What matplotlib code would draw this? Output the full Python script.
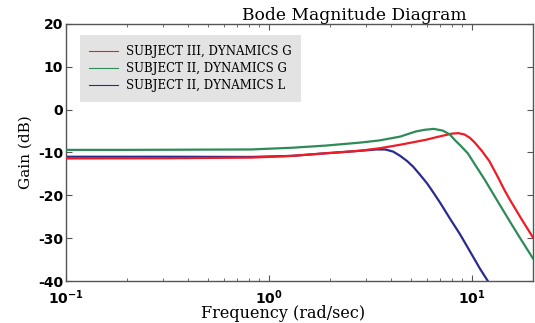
import numpy as np
import matplotlib.pyplot as plt
from matplotlib.ticker import FixedLocator, LogLocator, NullFormatter

# values (frequency in rad/sec, gain in dB)
red_w = [0.1, 0.3, 0.82, 1.3, 1.9, 2.82, 3.54, 4.44, 5.3, 6.0, 6.74, 7.5, 8.0,
         8.6, 9.2, 9.8, 10.3, 11.2, 12.2, 13.4, 14.5, 15.4, 17.5, 20.0]
red_db = [-11.4, -11.35, -11.2, -10.8, -10.2, -9.6, -9.0, -8.2, -7.5, -7.0, -6.4,
          -5.9, -5.6, -5.5, -5.8, -6.6, -7.6, -9.6, -12.0, -15.6, -18.8, -21.0,
          -25.4, -29.8]

green_w = [0.1, 0.2, 0.4, 0.82, 1.3, 1.9, 2.82, 3.5, 4.44, 5.3, 5.88, 6.5, 7.2,
           7.8, 8.25, 8.8, 9.56, 10.3, 11.6, 13.3, 15.0, 17.0, 20.0]
green_db = [-9.4, -9.4, -9.35, -9.3, -8.9, -8.4, -7.7, -7.2, -6.3, -5.1, -4.7,
            -4.5, -4.9, -5.8, -7.1, -8.4, -10.2, -12.6, -16.4, -21.1, -25.2,
            -29.4, -34.7]

blue_w = [0.1, 0.3, 0.82, 1.3, 1.9, 2.5, 3.0, 3.4, 3.75, 4.1, 4.44, 4.8, 5.14,
          5.56, 6.02, 6.5, 7.0, 7.8, 8.73, 10.0, 11.0, 12.0, 12.5]
blue_db = [-11.0, -11.0, -11.05, -10.8, -10.2, -9.8, -9.5, -9.3, -9.3, -9.8,
           -10.8, -12.0, -13.3, -15.2, -17.2, -19.5, -21.8, -25.4, -29.0, -33.8,
           -37.2, -40.0, -41.4]

labels = ['SUBJECT III, DYNAMICS G', 'SUBJECT II, DYNAMICS G', 'SUBJECT II, DYNAMICS L']
yticks = [-40, -30, -20, -10, 0, 10, 20]
xticks = [0.1, 1, 10]
xticklabels = [r'$\mathbf{10^{-1}}$', r'$\mathbf{10^{0}}$', r'$\mathbf{10^{1}}$']

serif = 'DejaVu Serif'

fig = plt.figure(figsize=(5.35, 3.23), dpi=100)
ax = fig.add_axes([0.123, 0.130, 0.873, 0.796])

ax.semilogx(red_w, red_db, color='#ee1c25', lw=1.6, label=labels[0], zorder=3)
ax.semilogx(green_w, green_db, color='#2e8b57', lw=1.6, label=labels[1], zorder=3)
ax.semilogx(blue_w, blue_db, color='#2b2b8f', lw=1.6, label=labels[2], zorder=2)

ax.set_xlim(0.1, 20)
ax.set_ylim(-40, 20)
ax.xaxis.set_major_locator(FixedLocator(xticks))
ax.set_xticklabels(xticklabels)
ax.xaxis.set_minor_locator(LogLocator(base=10, subs=np.arange(2, 10)))
ax.xaxis.set_minor_formatter(NullFormatter())
ax.set_yticks(yticks)
ax.set_yticklabels([str(t) for t in yticks], fontweight='bold')

ax.tick_params(which='both', direction='in', top=True, right=True, colors='#555555',
               labelcolor='black', labelsize=10)
ax.tick_params(which='major', length=4)
ax.tick_params(which='minor', length=2.5)
ax.tick_params(axis='y', pad=2)
ax.tick_params(axis='x', pad=5)
for s in ax.spines.values():
    s.set_color('#555555')
    s.set_linewidth(1.0)

ax.set_xlabel('Frequency (rad/sec)', family=serif, fontsize=11.5, labelpad=-1, x=0.465)
ax.set_ylabel('Gain (dB)', family=serif, fontsize=11, labelpad=4)
ax.set_title('Bode Magnitude Diagram', family=serif, fontsize=12.3, x=0.617, pad=3)

leg = ax.legend(loc='upper left', bbox_to_anchor=(0.03, 0.955), frameon=True,
                fancybox=False, facecolor='#e3e3e3', edgecolor='none', framealpha=1,
                prop={'family': serif, 'size': 8.5}, handlelength=2.4, handletextpad=0.7,
                borderpad=0.8, labelspacing=0.35, borderaxespad=0)
for h in leg.get_lines():
    h.set_linewidth(0.8)

fig.savefig('out.png', dpi=100)
